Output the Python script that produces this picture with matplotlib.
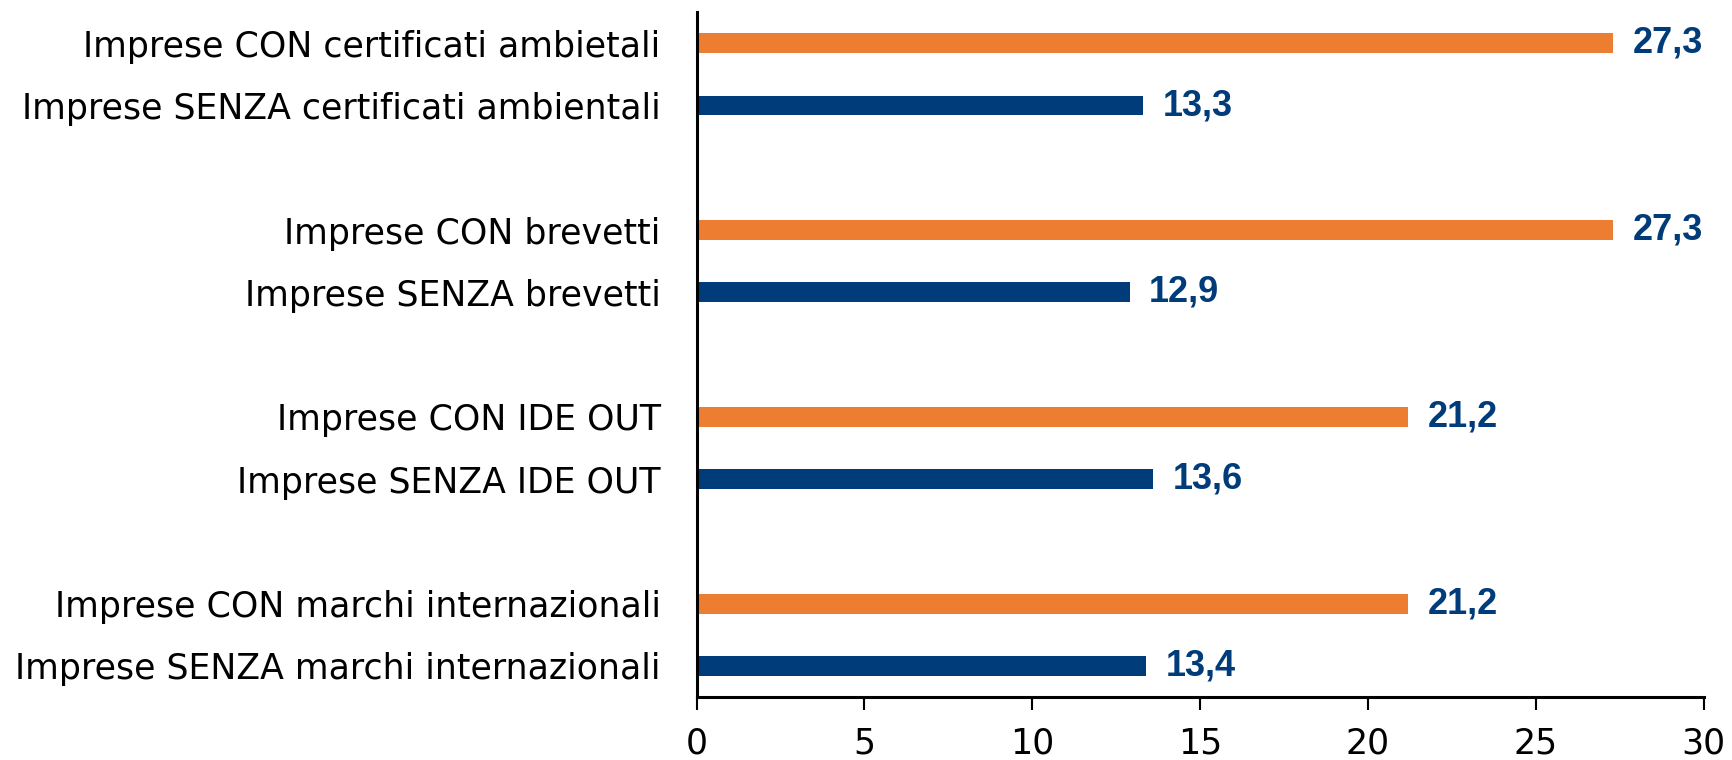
import matplotlib
matplotlib.use("Agg")
import matplotlib.pyplot as plt

# categories, top to bottom
labels = [
    "Imprese CON certificati ambietali",
    "Imprese SENZA certificati ambientali",
    "Imprese CON brevetti",
    "Imprese SENZA brevetti",
    "Imprese CON IDE OUT",
    "Imprese SENZA IDE OUT",
    "Imprese CON marchi internazionali",
    "Imprese SENZA marchi internazionali",
]
values = [27.3, 13.3, 27.3, 12.9, 21.2, 13.6, 21.2, 13.4]
value_text = ["27,3", "13,3", "27,3", "12,9", "21,2", "13,6", "21,2", "13,4"]
xticks = [0, 5, 10, 15, 20, 25, 30]

ORANGE = "#ED7D31"
BLUE = "#003B7A"

# pairs of bars, with a gap between pairs
positions = []
for i in range(len(labels)):
    positions.append((i // 2) * 3 + (i % 2))
colors = [ORANGE if i % 2 == 0 else BLUE for i in range(len(labels))]

fig = plt.figure(figsize=(17.33, 7.6), dpi=100)
ax = fig.add_axes([0.402, 0.083, 0.581, 0.901])

ax.barh(positions, values, height=0.32, color=colors)

for p, v, t in zip(positions, values, value_text):
    ax.annotate(t, (v, p), xytext=(14, 0), textcoords="offset points",
                ha="left", va="center", fontsize=26, fontweight="bold",
                color=BLUE, family="Liberation Sans")

ax.set_xlim(0, 30)
ax.set_ylim(10.5, -0.5)
ax.set_xticks(xticks)
ax.set_xticklabels([str(x) for x in xticks], fontsize=25, family="DejaVu Sans")
ax.set_yticks(positions)
ax.set_yticklabels(labels, fontsize=25, family="DejaVu Sans")

ax.tick_params(axis="y", length=0, pad=26)
ax.tick_params(axis="x", direction="out", length=9, width=1.5, pad=12)

for s in ["top", "right"]:
    ax.spines[s].set_visible(False)
ax.spines["left"].set_linewidth(2.2)
ax.spines["bottom"].set_linewidth(2.2)

fig.savefig("out.png", dpi=100)
